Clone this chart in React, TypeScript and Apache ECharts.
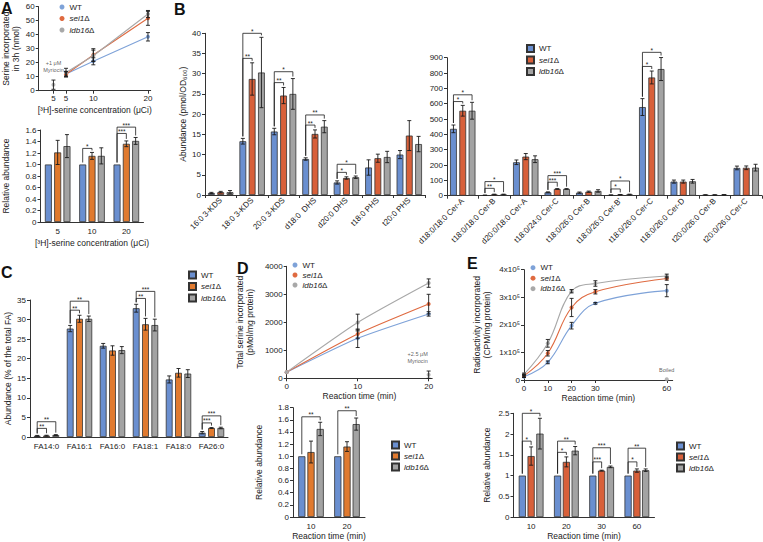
import React, { useEffect, useRef } from 'react';
import * as echarts from 'echarts';

const FONT = '"Liberation Sans", Arial, Helvetica, sans-serif';
const GROUPS = ['WT', 'sei1Δ', 'ldb16Δ'];
const BLUE = '#6a8fd0';
const GRAY = '#a3a3a3';
const ORANGE = '#e07a2f';
const RED = '#d8603a';
const LINE_COLORS = ['#7ea2d8', '#df6a40', '#a8a8a8'];

// ---------- Panel A (top): serine incorporation vs concentration ----------
const aConc = [5, 10, 20];
const aWT = [12, 21, 38.5];
const aWTErr = [1.5, 2.5, 3];
const aSei1 = [11.8, 25.5, 51.7];
const aSei1Err = [2, 4.5, 5];
const aLdb16 = [13, 25, 54.8];
const aLdb16Err = [3, 4, 2.5];
const aMyrX = 2.7;
const aMyr = 4.3;
const aMyrErr = 3.3;
const aXTicks = [2.7, 5, 10, 20];

// ---------- Panel A (bottom): relative abundance ----------
const aRelCats = ['5', '10', '20'];
const aRelWT = [1, 1, 1];
const aRelWTErr = [0, 0, 0];
const aRelSei1 = [1.21, 1.15, 1.36];
const aRelSei1Err = [0.21, 0.06, 0.05];
const aRelLdb16 = [1.32, 1.15, 1.41];
const aRelLdb16Err = [0.2, 0.14, 0.06];
const aRelSig: [number, number, number, number, string][] = [
  [1, 0, 1, 1.28, '*'], [2, 0, 1, 1.54, '***'], [2, 0, 2, 1.65, '***'],
];

// ---------- Panel B (left): LCBs ----------
const bCatsL = ['16:0 3-KDS', '18:0 3-KDS', '20:0 3-KDS', 'd18:0  DHS', 'd20:0 DHS', 't18:0 PHS', 't20:0 PHS'];
const bWTL = [0.5, 13.3, 15.7, 8.9, 3.1, 6.8, 10.0];
const bWTLErr = [0.15, 0.7, 0.8, 0.3, 0.4, 1.9, 1.0];
const bSei1L = [0.7, 28.7, 24.6, 15.1, 4.2, 9.1, 14.7];
const bSei1LErr = [0.2, 4.0, 2.0, 1.0, 0.3, 1.0, 3.7];
const bLdb16L = [0.7, 30.3, 25.0, 16.9, 4.4, 9.4, 12.6];
const bLdb16LErr = [0.4, 8.7, 3.8, 1.5, 0.3, 1.4, 1.9];
const bSigL: [number, number, number, number, string][] = [
  [1, 0, 1, 33.8, '**'], [1, 0, 2, 40, '*'], [2, 0, 1, 27.8, '**'], [2, 0, 2, 30.5, '*'],
  [3, 0, 1, 17.3, '**'], [3, 0, 2, 19.8, '**'], [4, 0, 1, 5.6, '*'], [4, 0, 2, 7.6, '*'],
];

// ---------- Panel B (right): ceramides ----------
const bCatsR = ['d18:0/18:0 Cer-A', 't18:0/18:0 Cer-B', 'd20:0/18:0 Cer-A', 't18:0/24:0 Cer-C', 't18:0/26:0 Cer-B',
  "t18:0/26:0 Cer-B'", 't18:0/26:0 Cer-C', 't18:0/26:0 Cer-D', 't20:0/26:0 Cer-B', 't20:0/26:0 Cer-C'];
const bWTR = [436, 3, 218, 22, 20, 4, 578, 92, 5, 181];
const bWTRErr = [25, 1, 15, 3, 4, 1, 55, 10, 1, 12];
const bSei1R = [554, 8, 255, 44, 26, 7, 771, 92, 5, 182];
const bSei1RErr = [35, 2, 20, 2, 4, 1, 42, 10, 1, 12];
const bLdb16R = [554, 8, 238, 44, 31, 8, 826, 94, 6, 183];
const bLdb16RErr = [55, 2, 22, 2, 8, 2, 75, 12, 1, 22];
const bSigR: [number, number, number, number, string][] = [
  [0, 0, 1, 614, '*'], [0, 0, 2, 658, '*'], [1, 0, 1, 48, '**'], [1, 0, 2, 92, '*'],
  [3, 0, 1, 88, '***'], [3, 0, 2, 131, '***'], [5, 0, 1, 44, '*'], [5, 0, 2, 96, '*'],
  [6, 0, 1, 843, '*'], [6, 0, 2, 935, '*'],
];

// ---------- Panel C: fatty acids ----------
const cCats = ['FA14:0', 'FA16:1', 'FA16:0', 'FA18:1', 'FA18:0', 'FA26:0'];
const cWT = [0.3, 27.7, 23.3, 32.9, 14.7, 1.1];
const cWTErr = [0.1, 0.8, 0.6, 1.0, 0.9, 0.3];
const cSei1 = [0.35, 30.2, 22.1, 28.8, 16.4, 2.3];
const cSei1Err = [0.1, 0.9, 1.2, 1.5, 1.1, 0.1];
const cLdb16 = [0.5, 30.2, 22.2, 28.6, 16.2, 2.3];
const cLdb16Err = [0.1, 0.7, 0.9, 1.5, 1.0, 0.2];
const cSig: [number, number, number, number, string][] = [
  [0, 0, 1, 2.2, '**'], [0, 0, 2, 3.9, '**'], [1, 0, 1, 32.4, '**'], [1, 0, 2, 34.7, '**'],
  [3, 0, 1, 35.4, '**'], [3, 0, 2, 37.2, '***'], [5, 0, 1, 3.6, '***'], [5, 0, 2, 5.4, '***'],
];

// ---------- Panel D (top): total serine incorporated ----------
const dTime = [0, 10, 20];
const dWT = [220, 1430, 2300];
const dWTErr = [0, 330, 80];
const dSei1 = [220, 1580, 2650];
const dSei1Err = [0, 150, 350];
const dLdb16 = [220, 1990, 3400];
const dLdb16Err = [0, 300, 150];
const dMyrX = 20;
const dMyr = 130;
const dMyrErr = 130;
const dXTicks = [0, 10, 20];

// ---------- Panel D (bottom) ----------
const dRelCats = ['10', '20'];
const dRelWT = [1, 1];
const dRelWTErr = [0, 0];
const dRelSei1 = [1.07, 1.16];
const dRelSei1Err = [0.18, 0.08];
const dRelLdb16 = [1.45, 1.53];
const dRelLdb16Err = [0.11, 0.1];
const dRelSig: [number, number, number, number, string][] = [[0, 0, 2, 1.65, '**'], [1, 0, 2, 1.75, '**']];

// ---------- Panel E (top): radioactivity incorporated ----------
const eTime = [0, 10, 20, 30, 60];
const eWT = [12000, 64000, 197000, 278000, 324000];
const eWTErr = [3000, 5000, 12000, 3000, 22000];
const eSei1 = [15000, 97000, 263000, 320000, 368000];
const eSei1Err = [5000, 10000, 33000, 8000, 6000];
const eLdb16 = [20000, 133000, 322000, 350000, 377000];
const eLdb16Err = [5000, 14000, 6000, 10000, 7000];
const eBoiledX = 60;
const eBoiled = 3000;
const eXTicks = [0, 10, 20, 30, 60];

// ---------- Panel E (bottom) ----------
const eRelCats = ['10', '20', '30', '60'];
const eRelWT = [1, 1, 1, 1];
const eRelWTErr = [0, 0, 0, 0];
const eRelSei1 = [1.47, 1.33, 1.12, 1.12];
const eRelSei1Err = [0.22, 0.12, 0.01, 0.04];
const eRelLdb16 = [2.01, 1.6, 1.21, 1.13];
const eRelLdb16Err = [0.37, 0.1, 0.02, 0.03];
const eRelSig: [number, number, number, number, string][] = [
  [0, 0, 1, 1.83, '*'], [0, 0, 2, 2.5, '*'], [1, 0, 1, 1.56, '*'], [1, 0, 2, 1.83, '**'],
  [2, 0, 1, 1.33, '***'], [2, 0, 2, 1.67, '***'], [3, 0, 1, 1.33, '*'], [3, 0, 2, 1.66, '**'],
];

// ---------------------------------------------------------------------------
const TXT = '#222';

function errSeries(gi: number, rows: number[][], pitch: number, cap = 2) {
  return {
    type: 'custom', xAxisIndex: gi, yAxisIndex: gi, z: 5, silent: true,
    data: rows,
    renderItem: (_p: any, api: any) => {
      const x = api.value(0), v = api.value(1), e = api.value(2), b = api.value(3);
      if (!e) return null;
      const p1 = api.coord([x, v + e]);
      const p2 = api.coord([x, Math.max(0, v - e)]);
      const cx = p1[0] + (b - 1) * pitch;
      const st = { stroke: '#1a1a1a', lineWidth: 0.9 };
      return {
        type: 'group', children: [
          { type: 'line', shape: { x1: cx, y1: p1[1], x2: cx, y2: p2[1] }, style: st },
          { type: 'line', shape: { x1: cx - cap, y1: p1[1], x2: cx + cap, y2: p1[1] }, style: st },
          { type: 'line', shape: { x1: cx - cap, y1: p2[1], x2: cx + cap, y2: p2[1] }, style: st },
        ],
      };
    },
  };
}

function sigSeries(gi: number, sig: [number, number, number, number, string][], vals: number[][], errs: number[][], pitch: number) {
  return {
    type: 'custom', xAxisIndex: gi, yAxisIndex: gi, z: 6, silent: true,
    data: sig.map((s) => [s[0], s[3]]),
    renderItem: (params: any, api: any) => {
      const [cat, from, to, level, label] = sig[params.dataIndex];
      const c = api.coord([cat, level]);
      const x1 = c[0] + (from - 1) * pitch;
      const x2 = c[0] + (to - 1) * pitch;
      const yb1 = api.coord([cat, vals[from][cat] + errs[from][cat]])[1] - 2;
      const yb2 = api.coord([cat, vals[to][cat] + errs[to][cat]])[1] - 2;
      return {
        type: 'group', children: [
          { type: 'polyline', shape: { points: [[x1, Math.max(yb1, c[1] + 2)], [x1, c[1]], [x2, c[1]], [x2, Math.max(yb2, c[1] + 2)]] }, style: { stroke: '#1a1a1a', lineWidth: 0.8, fill: 'none' } },
          { type: 'text', style: { text: label, x: (x1 + x2) / 2, y: c[1] + 1.5, align: 'center', verticalAlign: 'bottom', fontSize: 6.5, fontFamily: FONT, fill: TXT } },
        ],
      };
    },
  };
}

function barPanel(key: string, gi: number, vals: number[][], errs: number[][], sei1Color: string, bw: number, pitch: number, sig: [number, number, number, number, string][]) {
  const colors = [BLUE, sei1Color, GRAY];
  const series: any[] = vals.map((v, b) => ({
    type: 'bar', name: key + ':' + GROUPS[b], xAxisIndex: gi, yAxisIndex: gi,
    data: v, barWidth: bw, barGap: ((pitch - bw) / bw) * 100 + '%', silent: true,
    itemStyle: { color: colors[b], borderColor: '#333', borderWidth: 0.8 },
  }));
  const rows: number[][] = [];
  vals.forEach((v, b) => v.forEach((y, c) => rows.push([c, y, errs[b][c], b])));
  series.push(errSeries(gi, rows, pitch));
  series.push(sigSeries(gi, sig, vals, errs, pitch));
  return series;
}

function linePanel(key: string, gi: number, xs: number[], vals: number[][], errs: number[][], smooth: number | boolean) {
  const series: any[] = vals.map((v, b) => ({
    type: 'line', name: key + ':' + GROUPS[b], xAxisIndex: gi, yAxisIndex: gi,
    data: xs.map((x, i) => [x, v[i]]), smooth, symbol: 'circle', symbolSize: 4, silent: true,
    lineStyle: { color: LINE_COLORS[b], width: 1.1 }, itemStyle: { color: LINE_COLORS[b] },
  }));
  const rows: number[][] = [];
  vals.forEach((v, b) => v.forEach((y, i) => rows.push([xs[i], y, errs[b][i], 1])));
  series.push(errSeries(gi, rows, 0));
  return series;
}

function controlPoint(gi: number, x: number, y: number, err: number, text: string, dist: number, offX: number) {
  return [
    {
      type: 'scatter', xAxisIndex: gi, yAxisIndex: gi, data: [[x, y]], symbol: 'circle', symbolSize: 4, silent: true,
      itemStyle: { color: GRAY },
      label: { show: true, formatter: text, position: 'top', distance: dist, offset: [offX, 0], fontSize: 5.5, lineHeight: 7, fontFamily: FONT, color: '#333', align: 'center' },
    },
    errSeries(gi, [[x, y, err, 1]], 0),
  ];
}

const fmtName = (n: string) => {
  const g = n.split(':')[1];
  if (g === 'WT') return '{n|WT}';
  return '{i|' + g.replace('Δ', '') + '}{n|Δ}';
};

function legend(prefix: string, left: number, top: number, icon: string, size: number, gap: number) {
  return {
    left, top, orient: 'vertical', selectedMode: false, padding: 0,
    itemWidth: size, itemHeight: size, itemGap: gap, icon,
    data: GROUPS.map((g) => prefix + ':' + g),
    formatter: fmtName,
    textStyle: {
      fontFamily: FONT, fontSize: 8, color: TXT, lineHeight: 10,
      rich: { i: { fontStyle: 'italic', fontSize: 8, fontFamily: FONT, color: TXT }, n: { fontSize: 8, fontFamily: FONT, color: TXT } },
    },
  };
}

const axisLine = { show: true, lineStyle: { color: '#333', width: 1 } };
const tick = { show: true, length: 3, lineStyle: { color: '#333' } };
const lbl = { fontFamily: FONT, fontSize: 8, color: TXT, margin: 4 };
const nameStyle = { fontFamily: FONT, fontSize: 8.5, color: TXT, lineHeight: 10 };
const plain = (v: number) => String(v);

function catX(gi: number, cats: string[], extra: any = {}) {
  return { type: 'category', gridIndex: gi, data: cats, axisLine, axisTick: { ...tick, alignWithLabel: false }, axisLabel: { ...lbl, interval: 0, margin: 5 }, splitLine: { show: false }, ...extra };
}
function valY(gi: number, min: number, max: number, interval: number, name: string, gap: number, fmt: (v: number) => string = plain) {
  return {
    type: 'value', gridIndex: gi, min, max, interval, axisLine, axisTick: tick, splitLine: { show: false },
    axisLabel: { ...lbl, formatter: fmt }, name, nameLocation: 'middle', nameGap: gap, nameRotate: 90, nameTextStyle: nameStyle,
  };
}
function valX(gi: number, min: number, max: number, ticks: number[], name: string, gap: number, fmt: (v: number) => string = plain) {
  return {
    type: 'value', gridIndex: gi, min, max, axisLine, splitLine: { show: false },
    axisTick: { ...tick, customValues: ticks }, axisLabel: { ...lbl, customValues: ticks, formatter: fmt },
    name, nameLocation: 'middle', nameGap: gap, nameTextStyle: nameStyle,
  };
}
const dec1 = (v: number) => (v === 0 ? '0' : v.toFixed(1));
const rotLbl = { ...lbl, color: '#222', interval: 0, rotate: 45, fontSize: 8, margin: 4 };

export default function App() {
  const ref = useRef<HTMLDivElement>(null);
  useEffect(() => {
    if (!ref.current) return;
    const chart = echarts.init(ref.current, undefined, { renderer: 'svg' });
    const option: any = {
      animation: false,
      backgroundColor: '#fff',
      textStyle: { fontFamily: FONT, color: TXT },
      grid: [
        { left: 32.7, top: 6.7, width: 118, height: 84 },
        { left: 37.5, top: 130, width: 106, height: 92 },
        { left: 205, top: 33.3, width: 220, height: 161.7 },
        { left: 447, top: 57.7, width: 315, height: 138 },
        { left: 30, top: 300, width: 198, height: 137 },
        { left: 286.7, top: 266.3, width: 145.5, height: 112 },
        { left: 293, top: 407.7, width: 72, height: 111.6 },
        { left: 524, top: 269.7, width: 148.7, height: 110.3 },
        { left: 513.5, top: 413.3, width: 141, height: 106 },
      ],
      xAxis: [
        valX(0, 0, 20.5, aXTicks, '[³H]-serine concentration (μCi)', 14, (v: number) => (v < 4 ? '5' : String(v))),
        catX(1, aRelCats, { axisTick: { show: false }, name: '[³H]-serine concentration (μCi)', nameLocation: 'middle', nameGap: 16, nameTextStyle: nameStyle }),
        catX(2, bCatsL, { axisLabel: rotLbl }),
        catX(3, bCatsR, { axisLabel: rotLbl }),
        catX(4, cCats, { axisTick: { show: false } }),
        valX(5, 0, 20.5, dXTicks, 'Reaction time (min)', 13),
        catX(6, dRelCats, { axisTick: { show: false }, name: 'Reaction time (min)', nameLocation: 'middle', nameGap: 14, nameTextStyle: nameStyle }),
        valX(7, 0, 62.5, eXTicks, 'Reaction time (min)', 12.5),
        catX(8, eRelCats, { axisTick: { show: false }, name: 'Reaction time (min)', nameLocation: 'middle', nameGap: 12.5, nameTextStyle: nameStyle }),
      ],
      yAxis: [
        valY(0, 0, 60, 10, 'Serine incorporated\nin 3h (nmol)', 17.7),
        valY(1, 0, 1.6, 0.2, 'Relative abundance', 29.5, dec1),
        valY(2, 0, 40, 5, 'Abundance (pmol/OD₆₀₀)', 17),
        valY(3, 0, 900, 100, '', 20),
        valY(4, 0, 35, 5, 'Abundance (% of the total FA)', 17),
        valY(5, 0, 4000, 1000, 'Total serine incorporated\n(pMol/mg protein)', 31.7),
        valY(6, 0, 1.8, 0.2, 'Relative abundance', 29, dec1),
        valY(7, 0, 400000, 100000, 'Radioactivity incorporated\n(CPM/mg protein)', 32, (v: number) => (v === 0 ? '0' : v / 100000 + 'x10⁵')),
        valY(8, 0, 2.5, 0.5, 'Relative abundance', 22),
      ],
      legend: [
        legend('A', 59.5, 2, 'circle', 5, 1.5),
        legend('B', 526, 43.5, 'rect', 7, 1.5),
        legend('C', 188, 270, 'rect', 7, 1.5),
        legend('D', 292.5, 260, 'circle', 5, 0),
        legend('Db', 391, 440, 'rect', 7, 1),
        legend('E', 530.5, 262.7, 'circle', 5, 0.5),
        legend('Eb', 676, 441, 'rect', 7, 1),
      ],
      graphic: [
        { type: 'text', left: 1, top: 0, style: { text: 'A', fontSize: 16, fontWeight: 'bold', fontFamily: FONT, fill: '#111' } },
        { type: 'text', left: 174, top: 1, style: { text: 'B', fontSize: 16, fontWeight: 'bold', fontFamily: FONT, fill: '#111' } },
        { type: 'text', left: 1, top: 264, style: { text: 'C', fontSize: 16, fontWeight: 'bold', fontFamily: FONT, fill: '#111' } },
        { type: 'text', left: 237, top: 260, style: { text: 'D', fontSize: 16, fontWeight: 'bold', fontFamily: FONT, fill: '#111' } },
        { type: 'text', left: 467, top: 255, style: { text: 'E', fontSize: 16, fontWeight: 'bold', fontFamily: FONT, fill: '#111' } },
      ],
      series: [
        ...linePanel('A', 0, aConc, [aWT, aSei1, aLdb16], [aWTErr, aSei1Err, aLdb16Err], false),
        ...controlPoint(0, aMyrX, aMyr, aMyrErr, '+1 μM\nMyriocin', 9, 0),
        ...barPanel('Ab', 1, [aRelWT, aRelSei1, aRelLdb16], [aRelWTErr, aRelSei1Err, aRelLdb16Err], ORANGE, 7, 9.3, aRelSig),
        ...barPanel('B', 2, [bWTL, bSei1L, bLdb16L], [bWTLErr, bSei1LErr, bLdb16LErr], RED, 6.8, 9.3, bSigL),
        ...barPanel('B2', 3, [bWTR, bSei1R, bLdb16R], [bWTRErr, bSei1RErr, bLdb16RErr], RED, 6.8, 9.3, bSigR),
        ...barPanel('C', 4, [cWT, cSei1, cLdb16], [cWTErr, cSei1Err, cLdb16Err], ORANGE, 6.8, 9.3, cSig),
        ...linePanel('D', 5, dTime, [dWT, dSei1, dLdb16], [dWTErr, dSei1Err, dLdb16Err], 0.2),
        ...controlPoint(5, dMyrX, dMyr, dMyrErr, '+2.5 μM\nMyriocin', 8, -11),
        ...barPanel('Db', 6, [dRelWT, dRelSei1, dRelLdb16], [dRelWTErr, dRelSei1Err, dRelLdb16Err], ORANGE, 7.2, 9.2, dRelSig),
        ...linePanel('E', 7, eTime, [eWT, eSei1, eLdb16], [eWTErr, eSei1Err, eLdb16Err], 0.4),
        ...controlPoint(7, eBoiledX, eBoiled, 0, 'Boiled', 4, 0),
        ...barPanel('Eb', 8, [eRelWT, eRelSei1, eRelLdb16], [eRelWTErr, eRelSei1Err, eRelLdb16Err], RED, 7.2, 8.8, eRelSig),
      ],
    };
    chart.setOption(option);
    return () => chart.dispose();
  }, []);
  return <div ref={ref} style={{ position: 'absolute', left: 0, top: 0, width: 763, height: 542, background: '#fff' }} />;
}
